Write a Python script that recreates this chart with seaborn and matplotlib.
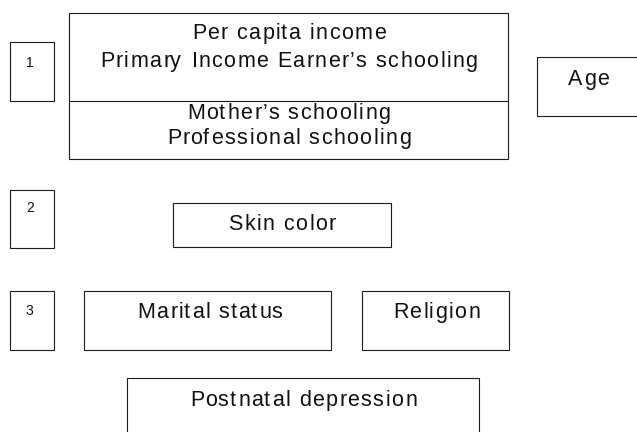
import matplotlib
matplotlib.use('Agg')

import matplotlib.pyplot as plt
import matplotlib.patches as mpatches
from matplotlib.font_manager import FontProperties, findfont
from matplotlib.ft2font import FT2Font
from matplotlib.textpath import TextToPath
import seaborn as sns

# diagram content
block_labels = ['1', '2', '3']
block1_top = ['Per capita income', 'Primary Income Earner\u2019s schooling']
block1_bottom = ['Mother\u2019s schooling', 'Professional schooling']
side_label = 'Age'
block2_labels = ['Skin color']
block3_labels = ['Marital status', 'Religion']
outcome_label = 'Postnatal depression'

sns.set_theme(style='white')
plt.rcParams['font.family'] = ['Liberation Sans', 'DejaVu Sans']

DPI = 100
fig = plt.figure(figsize=(6.37, 4.32), dpi=DPI)
ax = fig.add_axes([0, 0, 1, 1])
ax.set_xlim(0, 637)
ax.set_ylim(432, 0)
ax.axis('off')

lw = 0.8
ec = '#1a1a1a'
tc = '#111111'


def box(x0, y0, x1, y1):
    ax.add_patch(mpatches.Rectangle((x0, y0), x1 - x0, y1 - y0, fill=False,
                                    edgecolor=ec, linewidth=lw))


def label(x, y, s, size=15.5, spacing=1.4):
    # the source text is letter-spaced, so place glyph by glyph
    prop = FontProperties(family='Liberation Sans', size=size)
    font = FT2Font(findfont(prop))
    font.set_size(size, DPI)
    advs, bears = [], []
    for c in s:
        g = font.load_char(ord(c))
        advs.append(g.linearHoriAdvance / 65536)
        bears.append(g.horiBearingX / 64)
    total = sum(advs) + spacing * (len(s) - 1)
    w, h, d = TextToPath().get_text_width_height_descent('lp', prop, ismath=False)
    base = y + ((h - d) - d) / 2 * DPI / 72
    cx = x - total / 2
    for c, a, b in zip(s, advs, bears):
        if c != ' ':
            ax.text(cx + b, base, c, ha='left', va='baseline',
                    fontproperties=prop, color=tc)
        cx += a + spacing


# number boxes
num_boxes = [(10, 42, 54, 101), (10, 190, 54, 248), (10, 291, 54, 350)]
num_pos = [(29, 63), (29, 208), (29, 311)]
for (x0, y0, x1, y1), (tx, ty), s in zip(num_boxes, num_pos, block_labels):
    box(x0, y0, x1, y1)
    label(tx, ty, s, size=10, spacing=0)

# block 1
box(69, 13, 508, 159)
ax.plot([69, 508], [101, 101], color=ec, linewidth=lw)
for s, y in zip(block1_top, [33, 61]):
    label(287.5, y, s)
for s, y in zip(block1_bottom, [113, 138]):
    label(287.5, y, s)

# age
box(537, 57, 660, 116)
label(588, 79, side_label)

# block 2
box(173, 203, 391, 247)
label(281, 224, block2_labels[0])

# block 3
box(84, 291, 331, 350)
label(209, 312, block3_labels[0])
box(362, 291, 509, 350)
label(435, 312, block3_labels[1])

# outcome
box(127, 378, 479, 460)
label(302, 400, outcome_label)

fig.savefig('out.png', dpi=DPI)
